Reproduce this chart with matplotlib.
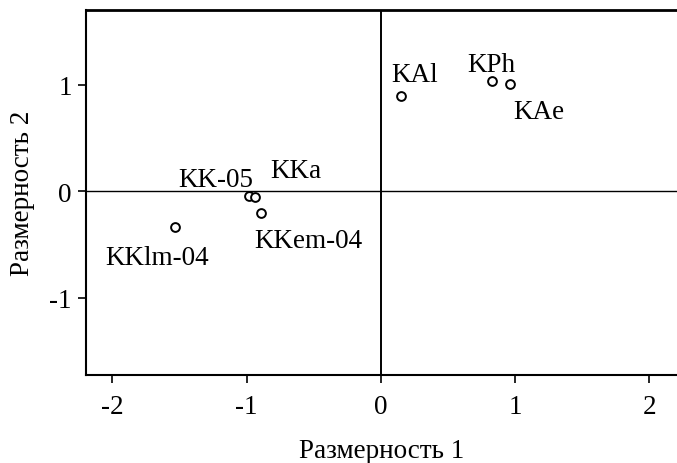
import matplotlib.pyplot as plt

plt.rcParams["font.family"] = ["Liberation Serif", "DejaVu Serif"]
plt.rcParams["axes.unicode_minus"] = False

# MDS coordinates
labels = ["KAl", "KPh", "KAe", "KK-05", "KKa", "KKem-04", "KKlm-04"]
dim1 = [0.153, 0.83, 0.964, -0.98, -0.94, -0.89, -1.53]
dim2 = [0.90, 1.04, 1.01, -0.04, -0.05, -0.20, -0.33]
# label offsets in pixels (left, baseline) from each point
offsets = [(-10, 15), (-25, 10), (3, -34), (-71, 10), (16, 20), (-7, -34), (-70, -37)]

fig = plt.figure(figsize=(6.77, 4.64), dpi=100)
ax = fig.add_axes([0.1264, 0.1886, 0.8736, 0.7877])

ax.axhline(0, color="black", lw=1.0, zorder=1)
ax.axvline(0, color="black", lw=1.4, zorder=1)

ax.scatter(dim1, dim2, s=40, facecolors="white", edgecolors="black",
           linewidths=1.4, zorder=3)

for lab, x, y, (dx, dy) in zip(labels, dim1, dim2, offsets):
    ax.annotate(lab, (x, y), xytext=(dx, dy), textcoords="offset pixels",
                ha="left", va="baseline", fontsize=19.5)

ax.set_xlim(-2.2, 2.207)
ax.set_ylim(-1.728, 1.704)
ax.set_xticks([-2, -1, 0, 1, 2])
ax.set_yticks([-1, 0, 1])
ax.tick_params(labelsize=19.5, length=6, width=1.2, direction="out")
ax.tick_params(axis="x", pad=7)
ax.tick_params(axis="y", pad=4)

for side in ["left", "bottom"]:
    ax.spines[side].set_linewidth(1.5)
ax.spines["top"].set_linewidth(2.0)
ax.spines["right"].set_visible(False)

ax.set_xlabel("Размерность 1", fontsize=19.5, labelpad=14)
ax.set_ylabel("Размерность 2", fontsize=19.5, labelpad=10)

plt.savefig("out.png", dpi=100)
